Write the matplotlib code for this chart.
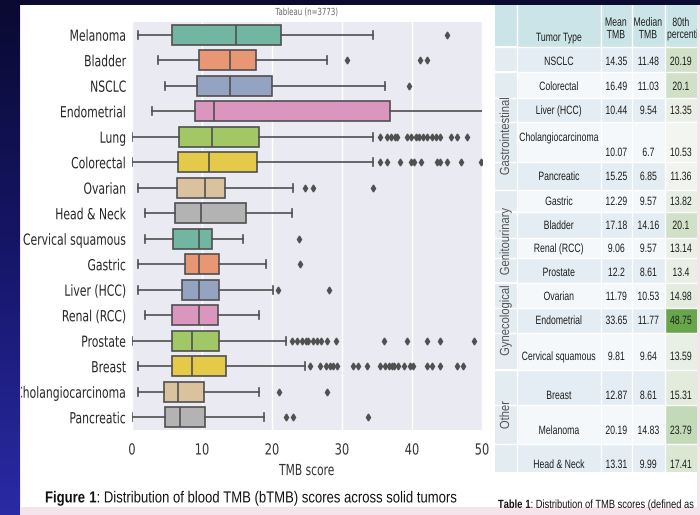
import numpy as np
import matplotlib
matplotlib.use('Agg')
import matplotlib.pyplot as plt
import seaborn as sns
from matplotlib.colors import LinearSegmentedColormap, Normalize
from matplotlib.patches import Rectangle
from matplotlib.patheffects import AbstractPathEffect
from matplotlib.transforms import Affine2D

# ---- boxplot data ----
tumors = ['Melanoma', 'Bladder', 'NSCLC', 'Endometrial', 'Lung', 'Colorectal',
          'Ovarian', 'Head & Neck', 'Cervical squamous', 'Gastric', 'Liver (HCC)',
          'Renal (RCC)', 'Prostate', 'Breast', 'Cholangiocarcinoma', 'Pancreatic']
whislo = [0.9, 3.7, 4.7, 2.9, 0.0, 0.0, 0.9, 1.9, 1.9, 0.9, 0.9, 1.9, 0.0, 0.9, 0.9, 0.0]
q1 = [5.7, 9.6, 9.3, 9.0, 6.7, 6.6, 6.4, 6.1, 5.9, 7.6, 7.1, 5.7, 5.7, 5.7, 4.6, 4.7]
med = [14.8, 14.0, 14.0, 11.7, 11.4, 11.0, 10.4, 9.9, 9.6, 9.6, 9.6, 9.6, 8.6, 8.6, 6.6, 6.9]
q3 = [21.3, 17.7, 20.0, 36.9, 18.1, 17.8, 13.3, 16.3, 11.4, 12.4, 12.4, 12.3, 12.4, 13.4, 10.3, 10.4]
whishi = [34.4, 27.8, 36.1, 52.0, 34.4, 34.4, 23.0, 22.9, 15.9, 19.1, 20.1, 18.1, 22.0, 24.7, 18.1, 18.8]
outliers = [
    [45.0],
    [30.7, 41.1, 42.1],
    [39.5],
    [],
    [35.4, 36.4, 37.0, 37.5, 37.9, 39.3, 39.9, 40.5, 41.0, 41.6, 42.2, 42.8, 43.4, 44.0, 45.6, 46.4, 47.9],
    [35.4, 36.4, 38.3, 39.8, 40.3, 41.3, 43.6, 44.0, 45.0, 47.0, 49.9],
    [24.7, 25.8, 34.4],
    [],
    [23.9],
    [24.0],
    [20.9, 28.1],
    [],
    [22.9, 23.6, 24.3, 24.9, 25.1, 25.9, 26.4, 27.0, 27.9, 29.1, 36.0, 39.3, 42.1, 44.0, 48.9],
    [25.4, 26.9, 27.7, 28.3, 28.7, 29.3, 31.6, 32.3, 33.6, 35.4, 36.1, 36.7, 37.1, 37.4,
     38.0, 38.9, 39.7, 40.1, 42.1, 42.9, 44.0, 46.4, 47.3],
    [21.0, 27.8],
    [22.0, 23.0, 33.7],
]
xticks = [0, 10, 20, 30, 40, 50]

# ---- table data ----
table_types = ['NSCLC', 'Colorectal', 'Liver (HCC)', 'Cholangiocarcinoma', 'Pancreatic',
               'Gastric', 'Bladder', 'Renal (RCC)', 'Prostate', 'Ovarian', 'Endometrial',
               'Cervical squamous', 'Breast', 'Melanoma', 'Head & Neck']
mean_tmb = [14.35, 16.49, 10.44, 10.07, 15.25, 12.29, 17.18, 9.06, 12.2, 11.79, 33.65, 9.81, 12.87, 20.19, 13.31]
median_tmb = [11.48, 11.03, 9.54, 6.7, 6.85, 9.57, 14.16, 9.57, 8.61, 10.53, 11.77, 9.64, 8.61, 14.83, 9.99]
p80_tmb = [20.19, 20.1, 13.35, 10.53, 11.36, 13.82, 20.1, 13.14, 13.4, 14.98, 48.75, 13.59, 15.31, 23.79, 17.41]
group_names = ['', 'Gastrointestinal', 'Genitourinary', 'Gynecological', 'Other']
group_sizes = [1, 5, 3, 3, 3]

plt.rcParams['mathtext.fontset'] = 'custom'
plt.rcParams['mathtext.rm'] = 'Liberation Sans'
plt.rcParams['mathtext.bf'] = 'Liberation Sans:bold'


class Squeeze(AbstractPathEffect):
    # narrow the glyphs horizontally (the screenshot text is condensed)
    def __init__(self, sx, align='left'):
        super().__init__()
        self.sx = sx
        self.align = align

    def draw_path(self, renderer, gc, tpath, affine, rgbFace=None):
        w = tpath.get_extents().x1
        shift = {'left': 0, 'center': 0.5, 'right': 1}[self.align] * w * (1 - self.sx)
        t = Affine2D().scale(self.sx, 1).translate(shift, 0) + affine
        renderer.draw_path(gc, tpath, t, rgbFace)


def sq(sx, align='center'):
    return [Squeeze(sx, align)]


SANS = 'Liberation Sans'
W, H = 700, 515
fig = plt.figure(figsize=(7, 5.15), dpi=100)

def rect(x0, y0, x1, y1):
    return [x0 / W, 1 - y1 / H, (x1 - x0) / W, (y1 - y0) / H]

# background: slide gradient + white page
bg = fig.add_axes([0, 0, 1, 1])
bg.set_xlim(0, W)
bg.set_ylim(H, 0)
bg.axis('off')
grad = LinearSegmentedColormap.from_list('slide', ['#0a0a32', '#16166a', '#2a2aa4'])
bg.imshow(np.linspace(0, 1, 100).reshape(-1, 1), cmap=grad, aspect='auto', extent=[0, W, H, 0])
bg.add_patch(Rectangle((20, 5), 680, 510, color='#f6e4ec', lw=0))
page = Rectangle((21, 5), 676, 502, color='white', lw=0)
bg.add_patch(page)

# ---- boxplot ----
ax = fig.add_axes(rect(132, 22, 482, 430))
ax.set_facecolor('#eaeaf2')
pal = sns.color_palette('Set2', 8, desat=0.75)
stats = []
for i in range(len(tumors)):
    stats.append(dict(label=tumors[i], whislo=whislo[i], q1=q1[i], med=med[i],
                      q3=q3[i], whishi=whishi[i], fliers=outliers[i]))
line_c = '#505050'
bp = ax.bxp(stats, positions=np.arange(len(tumors)), vert=False, widths=0.8,
            capwidths=0.3, patch_artist=True,
            boxprops=dict(edgecolor=line_c, linewidth=1.2),
            medianprops=dict(color=line_c, linewidth=1.2),
            whiskerprops=dict(color=line_c, linewidth=1.2),
            capprops=dict(color=line_c, linewidth=1.2),
            flierprops=dict(marker='d', markersize=3.5, markerfacecolor=line_c,
                            markeredgecolor=line_c, linestyle='none'))
for i, b in enumerate(bp['boxes']):
    b.set_facecolor(pal[i % 8])
ax.set_xlim(0, 50)
ax.set_ylim(len(tumors) - 0.5, -0.5)
ax.set_xticks(xticks)
ax.set_xticklabels([str(t) for t in xticks], fontsize=11, color='#333333')
ax.set_yticks(np.arange(len(tumors)))
ax.set_yticklabels(tumors, fontsize=11, color='#262626')
for lbl in ax.get_yticklabels():
    lbl.set_path_effects(sq(0.71, 'right'))
    lbl.set_clip_path(page)
for lbl in ax.get_xticklabels():
    lbl.set_path_effects(sq(0.75))
ax.tick_params(length=0)
ax.tick_params(axis='y', pad=4)
ax.tick_params(axis='x', pad=9)
ax.xaxis.grid(True, color='white', linewidth=1)
ax.set_axisbelow(True)
for s in ax.spines.values():
    s.set_visible(False)
xl = ax.set_xlabel('TMB score', fontsize=11, color='#333333', labelpad=4)
xl.set_path_effects(sq(0.7))
fig.text(307 / W, 1 - 12 / H, 'Tableau (n=3773)', fontsize=7, color='#666666',
         ha='center', va='center', path_effects=sq(0.72))
fig.text(45 / W, 1 - 498 / H,
         r'$\bf{Figure\ 1}$: Distribution of blood TMB (bTMB) scores across solid tumors',
         family=SANS, fontsize=11.5, color='#111111', ha='left', va='center',
         path_effects=sq(0.82, 'left'))

# ---- table ----
tx = fig.add_axes(rect(495, 5, 697, 472))
tx.set_xlim(495, 697)
tx.set_ylim(472, 5)
tx.axis('off')
cols = [495, 517, 601, 632, 665, 730]
row_edges = [47, 72, 98, 122, 162, 190, 212, 238, 258, 283, 308, 333, 370, 405, 444, 472]
text_y = [62, 87, 111, 153, 177, 202, 226, 249, 273, 297, 321, 357, 396, 431, 465]
head_c = '#cbe4e7'
band = ['#e4edf3', '#f4f8fa']
for j in range(0, 5):
    tx.add_patch(Rectangle((cols[j], 5), cols[j + 1] - cols[j], 42, color=head_c, lw=0))
green = LinearSegmentedColormap.from_list('p80', ['#f3f5f1', '#68a64c'])
norm = Normalize(min(p80_tmb), max(p80_tmb))
tkw = dict(family=SANS, fontsize=8.7, ha='center', va='center', color='#1e1e1e',
           path_effects=sq(0.72))
for i in range(len(table_types)):
    y0, y1 = row_edges[i], row_edges[i + 1]
    for j in range(1, 4):
        tx.add_patch(Rectangle((cols[j], y0), cols[j + 1] - cols[j], y1 - y0,
                               color=band[i % 2], lw=0))
    tx.add_patch(Rectangle((cols[4], y0), cols[5] - cols[4], y1 - y0,
                           color=green(norm(p80_tmb[i])), lw=0))
    ny = text_y[i] - 15 if len(table_types[i]) > 17 else text_y[i]
    tx.text((cols[1] + cols[2]) / 2, ny, table_types[i], **tkw)
    tx.text((cols[2] + cols[3]) / 2, text_y[i], f'{mean_tmb[i]:g}', **tkw)
    tx.text((cols[3] + cols[4]) / 2, text_y[i], f'{median_tmb[i]:g}', **tkw)
    tx.text(681, text_y[i], f'{p80_tmb[i]:g}', clip_on=True, **tkw)
    tx.axhline(y0, color='white', lw=1)
# group column
k = 0
for name, n in zip(group_names, group_sizes):
    y0, y1 = row_edges[k], row_edges[k + n]
    tx.add_patch(Rectangle((cols[0], y0), cols[1] - cols[0], y1 - y0, color='#e3ecf1', lw=0))
    tx.plot([cols[0], cols[1]], [y0, y0], color='white', lw=1.5)
    if name:
        tx.text(506, (y0 + y1) / 2 - 6, name, rotation=90, family=SANS, fontsize=9.5,
                ha='center', va='center', color='#555555', path_effects=sq(0.85))
    k += n
for xc in cols[1:5]:
    tx.axvline(xc, color='white', lw=1)
hkw = dict(family=SANS, fontsize=8.7, va='center', color='#1e1e1e', linespacing=1.05)
tx.text(559, 38, 'Tumor Type', ha='center', path_effects=sq(0.72), **hkw)
tx.text(616, 29, 'Mean\nTMB', ha='center', path_effects=sq(0.72), **hkw)
tx.text(648, 29, 'Median\nTMB', ha='center', path_effects=sq(0.72), **hkw)
tx.text(681, 23, '80th', ha='center', path_effects=sq(0.72), **hkw)
tx.text(667, 35, 'percentile', ha='left', clip_on=True,
        path_effects=sq(0.72, 'left'), **hkw)

cap = fig.add_axes(rect(495, 495, 697, 515))
cap.set_xlim(495, 697)
cap.set_ylim(515, 495)
cap.axis('off')
cap.text(498, 505, r'$\bf{Table\ 1}$: Distribution of TMB scores (defined as mutations/Mb)',
         family=SANS, fontsize=8.5, color='#111111', ha='left', va='center', clip_on=True,
         path_effects=sq(0.79, 'left'))

fig.savefig('out.png', dpi=100)
